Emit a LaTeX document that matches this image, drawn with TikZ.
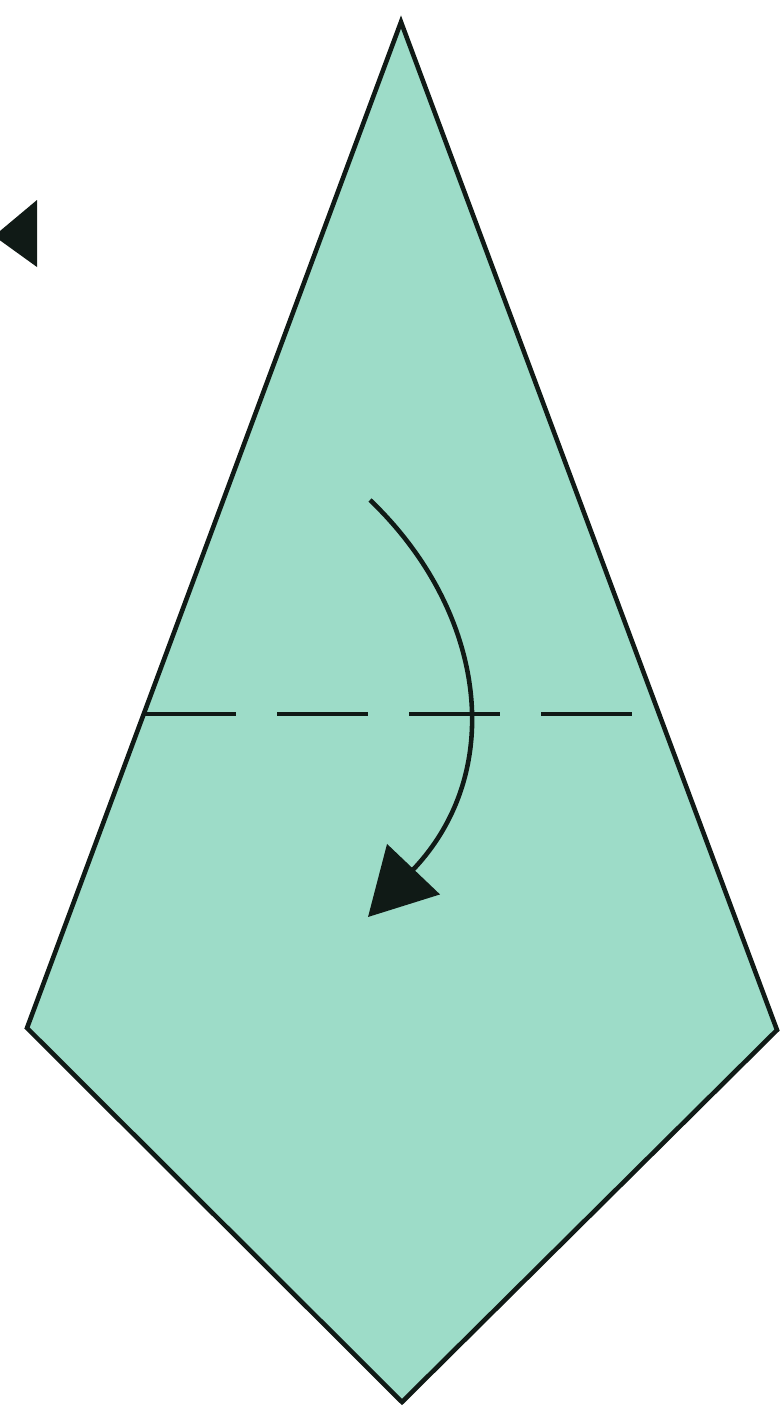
\documentclass[tikz,border=0pt]{standalone}
\usetikzlibrary{arrows.meta}
\definecolor{paper}{HTML}{9DDCC8}
\definecolor{ink}{HTML}{101A16}
\tikzset{
  edge/.style={draw=ink, line width=1.3pt, line join=miter},
  fold/.style={draw=ink, line width=1.4pt, dash pattern=on 9.1mm off 4.1mm},
  turn/.style={draw=ink, line width=1.3pt, -{Triangle[length=6.6mm, width=7.2mm]}},
}
\begin{document}
\begin{tikzpicture}[x=0.01cm, y=-0.01cm]
\useasboundingbox (0,0) rectangle (780,1417);
\clip (0,0) rectangle (780,1417);
\fill[white] (0,0) rectangle (780,1417);
% kite
\coordinate (T) at (401,22);
\coordinate (R) at (777,1030);
\coordinate (B) at (402,1402);
\coordinate (L) at (27,1028);
\filldraw[edge, fill=paper] (T) -- (R) -- (B) -- (L) -- cycle;
% valley fold line
\coordinate (fa) at (145,714);
\coordinate (fb) at (640,714);
\draw[fold] (fa) -- (fb);
% fold arrow
\coordinate (as) at (370,500);
\coordinate (ae) at (368,917);
\draw[turn] (as) .. controls (485,610) and (508,770) .. (ae);
% partial arrowhead at left edge
\fill[ink] (37,200) -- (37,267) -- (-6,236) -- cycle;
\end{tikzpicture}
\end{document}
